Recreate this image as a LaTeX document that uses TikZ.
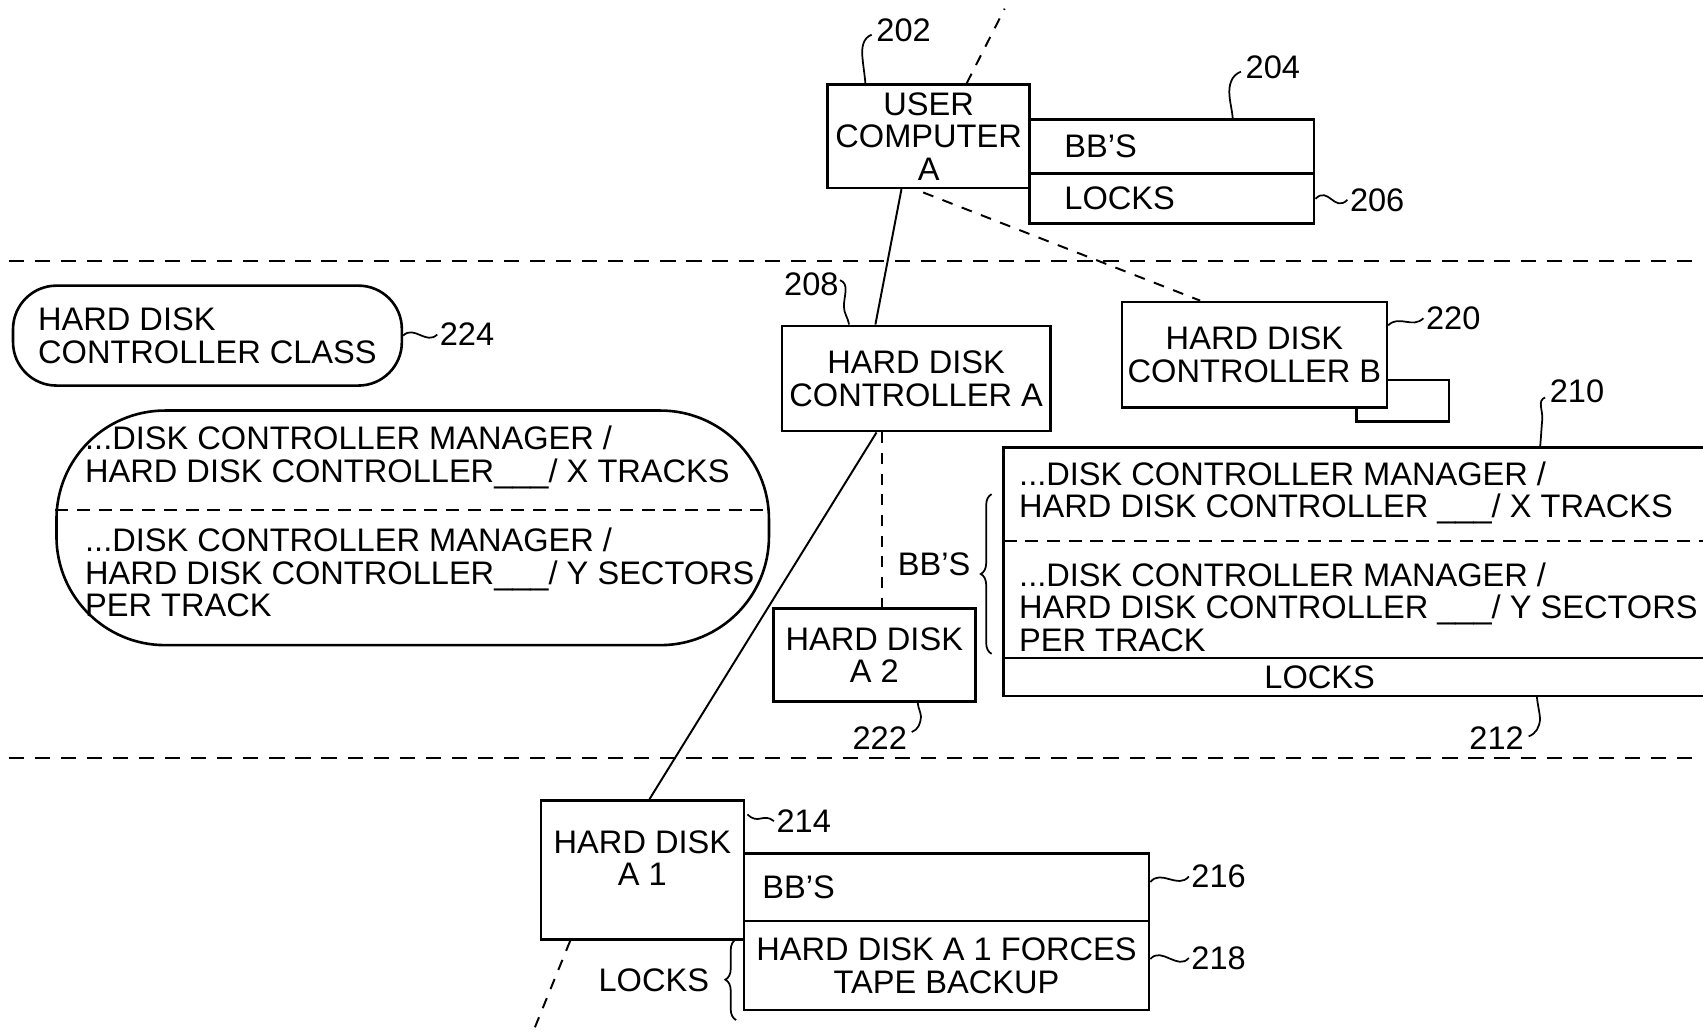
\documentclass[tikz,border=0pt]{standalone}
\usepackage{fontspec}
\setmainfont{Liberation Sans}
\usetikzlibrary{positioning, calc, decorations.pathreplacing}

\begin{document}
\begin{tikzpicture}[x=0.5pt, y=-0.5pt,
        every node/.style={font=\fontsize{15}{15}\selectfont},
        box/.style={draw, line width=1.2pt, inner sep=0pt, align=center},
        sbox/.style={draw, line width=1.2pt, inner ysep=0pt, inner xsep=#1, align=left},
        pill/.style={draw, line width=1.2pt, inner ysep=0pt, inner xsep=8pt, align=left},
        txt/.style={inner sep=0pt, align=left},
        num/.style={inner sep=1pt},
        line/.style={line width=0.9pt},
        dline/.style={line width=0.9pt, dash pattern=on 5pt off 4.5pt},
        sep/.style={line width=0.9pt, dash pattern=on 7pt off 5pt},
        lead/.style={line width=0.8pt},
        brc/.style={line width=0.8pt, decorate, decoration={brace, amplitude=5pt}}]
        \useasboundingbox (0,0) rectangle (1568,952);

        % level separators
        \coordinate (sepLa) at (8,240);
        \coordinate (sepRa) at (1568,240);
        \coordinate (sepLb) at (8,698);
        \coordinate (sepRb) at (1568,698);
        \draw[sep] (sepLa) -- (sepRa);
        \draw[sep] (sepLb) -- (sepRb);

        % user computer
        \node[box, minimum width=93pt, minimum height=47.5pt] (uc) at (855,125.5) {USER\\COMPUTER\\A};
        \node[sbox=16pt, minimum width=131pt, minimum height=25pt, text width=99pt] (bbs) at (1079,135) {BB’S};
        \node[sbox=16pt, minimum width=131pt, minimum height=23pt, text width=99pt] (locks) at (1079,183) {LOCKS};

        % controllers
        \node[box, minimum width=123.5pt, minimum height=48.5pt] (hdca) at (843.5,348.5) {HARD DISK\\CONTROLLER A};
        \node[box, fill=white, minimum width=122pt, minimum height=48.5pt] (hdcb) at (1155,326.5) {HARD DISK\\CONTROLLER B};
        \draw[line width=1.2pt] ($(hdcb.east)+(0,23.5)$) -- ++(56,0) -- ++(0,38) -- ++(-85,0) -- ++(0,-13);

        % class
        \node[pill, rounded corners=20pt, minimum width=179pt, minimum height=46pt] (cls) at (191,309) {HARD DISK\\CONTROLLER CLASS};
        \node[pill, rounded corners=50pt, minimum width=328pt, minimum height=108pt] (mgr) at (380,486) {};
        \draw[sep, dash pattern=on 6pt off 4pt] ($(mgr.west)+(0,-16)$) -- ($(mgr.east)+(0,-16)$);
        \node[txt, anchor=west] (mgr1) at (78,421) {...DISK CONTROLLER MANAGER /\\HARD DISK CONTROLLER\_\_\_/ X TRACKS};
        \node[txt, anchor=west] (mgr2) at (78,527) {...DISK CONTROLLER MANAGER /\\HARD DISK CONTROLLER\_\_\_/ Y SECTORS\\PER TRACK};

        % bulletin boards of controller a
        \coordinate (r210) at (924,412);
        \coordinate (t210) at (1418,412);
        \coordinate (b212) at (1415,641);
        \draw[line width=1.2pt] (1568,412) -| (924,641) -- (1568,641);
        \draw[line width=1.2pt] (924,606) -- (1568,606);
        \draw[sep, dash pattern=on 6pt off 4pt] (924,498) -- (1568,498);
        \node[txt, anchor=west] (rmgr1) at (938,454) {...DISK CONTROLLER MANAGER /\\HARD DISK CONTROLLER \_\_\_/ X TRACKS};
        \node[txt, anchor=west] (rmgr2) at (938,559) {...DISK CONTROLLER MANAGER /\\HARD DISK CONTROLLER \_\_\_/ Y SECTORS\\PER TRACK};
        \node[txt] (rlocks) at (1215,624) {LOCKS};
        \draw[brc] ($(r210)+(-11,190)$) -- ($(r210)+(-11,43)$);
        \node[txt] (bblbl) at (860,520) {BB’S};

        % disks
        \node[box, minimum width=93pt, minimum height=43pt] (hda2) at (805,603) {HARD DISK\\A 2};
        \node[box, minimum width=93.5pt, minimum height=64pt, label={[align=center, yshift=5.5pt]center:HARD DISK\\A 1}] (hda1) at (591.5,801) {};
        \node[sbox=8.5pt, minimum width=186.5pt, minimum height=31pt, text width=169.5pt] (bba1) at (871.5,817) {BB’S};
        \node[box, minimum width=186.5pt, minimum height=41pt] (forces) at (871.5,889) {HARD DISK A 1 FORCES\\TAPE BACKUP};
        \draw[brc] ($(forces.south west)+(-6,8)$) -- ($(forces.north west)+(-6,18)$);
        \node[txt] (lklbl) at (602,903) {LOCKS};

        % connections
        \coordinate (topend) at (925,8);
        \coordinate (botend) at (490,952);
        \draw[dline] ($(uc.north)+(35,0)$) -- (topend);
        \draw[line] ($(uc.south)+(-25,0)$) -- ($(hdca.north)+(-37.5,0)$);
        \draw[dline] ($(uc.south)+(-5,3)$) -- ($(hdcb.north)+(-50,0)$);
        \draw[line] ($(hdca.south)+(-36.5,0)$) -- ($(hda1.north)+(6.5,0)$);
        \draw[dline] ($(hdca.south)+(-31.5,0)$) -- ($(hda2.north)+(7,0)$);
        \draw[dline] ($(hda1.south)+(-66.5,0)$) -- (botend);

        % reference numbers
        \node[num] (n202) at (832,28) {202};
        \node[num] (n204) at (1172,62) {204};
        \node[num] (n206) at (1268,184) {206};
        \node[num] (n208) at (747,262) {208};
        \node[num] (n220) at (1338,293) {220};
        \node[num] (n224) at (430,308) {224};
        \node[num] (n210) at (1452,360) {210};
        \node[num] (n212) at (1378,680) {212};
        \node[num] (n222) at (810,680) {222};
        \node[num] (n214) at (740,756) {214};
        \node[num] (n216) at (1122,807) {216};
        \node[num] (n218) at (1122,882) {218};

        \draw[lead] ($(uc.north west)+(36,0)$) to[out=95,in=-85] (794,52) to[out=95,in=200] ($(n202.west)+(-2,4)$);
        \draw[lead] ($(bbs.north)+(56,0)$) to[out=95,in=-85] (1132,88) to[out=95,in=200] ($(n204.west)+(-2,4)$);
        \draw[lead] (locks.east) .. controls +(12,-12) and +(-12,12) .. (n206.west);
        \draw[lead] ($(hdca.north west)+(63,0)$) to[out=100,in=-90] (777,282) to[out=90,in=-20] ($(n208.east)+(-1,-4)$);
        \draw[lead] ($(hdcb.east)+(0,-27)$) .. controls +(10,-10) and +(-10,10) .. (n220.west);
        \draw[lead] (cls.east) .. controls +(10,-10) and +(-10,10) .. (n224.west);
        \draw[lead] (t210) to[out=85,in=-95] (1420,386) to[out=85,in=200] ($(n210.west)+(-2,6)$);
        \draw[lead] (b212) to[out=-85,in=95] (1418,662) to[out=-95,in=20] ($(n212.east)+(2,-2)$);
        \draw[lead] ($(hda2.south)+(40,0)$) to[out=-85,in=95] (848,660) to[out=-95,in=20] ($(n222.east)+(2,-6)$);
        \draw[lead] ($(hda1.north east)+(2,14)$) .. controls +(10,10) and +(-10,-8) .. (n214.west);
        \draw[lead] ($(bba1.east)+(0,-5)$) .. controls +(10,-12) and +(-10,12) .. (n216.west);
        \draw[lead] ($(forces.east)+(0,-6)$) .. controls +(10,-12) and +(-10,12) .. (n218.west);
    \end{tikzpicture}
\end{document}
